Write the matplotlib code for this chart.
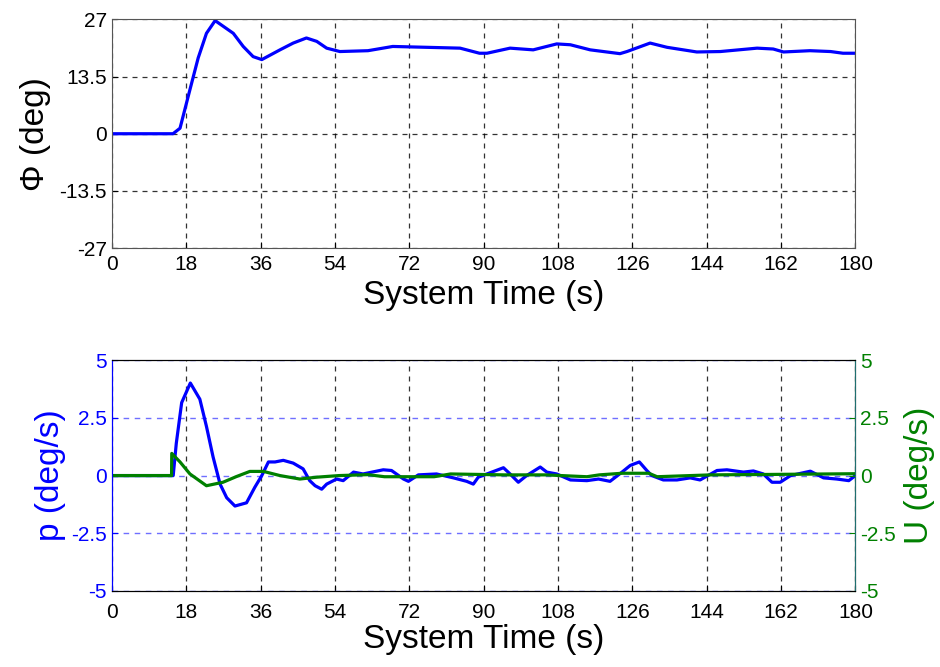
import matplotlib.pyplot as plt

plt.rcParams['font.family'] = ['Liberation Sans', 'DejaVu Sans']

# roll angle (top panel)
phi_t = [0, 14.8, 16.5, 18.9, 20.9, 22.9, 25, 29.4, 31.8, 34.2, 36.3, 40.7, 43.9,
         47.1, 49.6, 52, 55.2, 62, 68, 84.3, 89, 90.8, 96.4, 102, 107.7, 111, 115.8,
         123, 124.7, 130.3, 134.4, 141.6, 147.3, 156.2, 160.1, 162.6, 169, 174, 177, 180]
phi_v = [0, 0, 1.3, 10.4, 17.9, 23.7, 26.7, 23.7, 20.6, 18.2, 17.5, 19.8, 21.4,
         22.6, 21.8, 20.2, 19.4, 19.6, 20.6, 20.2, 19.0, 19.0, 20.2, 19.8, 21.2, 21.0, 19.8,
         18.9, 19.4, 21.4, 20.4, 19.3, 19.4, 20.2, 20.0, 19.3, 19.6, 19.4, 19.0, 19.0]

# roll rate p (bottom panel, left axis)
p_t = [0, 14.85, 15.6, 16.9, 19.0, 21.3, 22.9, 24.5, 26.2, 27.8, 29.8, 32.6, 34.6,
       36.3, 37.9, 39.5, 41.5, 43.9, 46.3, 47.9, 49.2, 50.8, 52, 54.4, 56, 58.5,
       60.8, 65.7, 67.7, 70.6, 71.8, 74.2, 78.6, 82.7, 85.9, 87.5, 88.7, 90.8, 94.8,
       96.4, 98.4, 100.4, 103.7, 105.3, 107.7, 111, 115, 117.8, 120.6, 123.5, 125.5,
       127.7, 129.5, 130.7, 133.5, 136.8, 140, 142.4, 146.5, 148.9, 152.9, 155.3,
       157.7, 159.8, 161.8, 164.3, 169.1, 172.3, 175.5, 178.4, 180]
p_v = [0, 0, 1.4, 3.16, 4.01, 3.31, 2.13, 0.81, -0.37, -0.96, -1.32, -1.18, -0.51,
       0, 0.59, 0.59, 0.66, 0.54, 0.29, -0.22, -0.44, -0.59, -0.37, -0.15, -0.22, 0.15,
       0.07, 0.25, 0.22, -0.15, -0.25, 0.03, 0.07, -0.1, -0.25, -0.37, -0.07, 0.07, 0.34,
       0.07, -0.29, 0, 0.37, 0.15, 0.07, -0.19, -0.22, -0.15, -0.25, 0.15, 0.44,
       0.59, 0.22, 0, -0.19, -0.19, -0.1, -0.19, 0.22, 0.25, 0.15, 0.2,
       0.07, -0.29, -0.29, 0, 0.19, -0.1, -0.15, -0.22, 0]

# control U (bottom panel, right axis)
u_t = [0, 14.45, 14.5, 16.5, 18.9, 22.9, 26.9, 30.2, 33.4, 36.7, 40.7, 45.5, 49.6,
       55, 62, 66, 78, 82, 95, 105, 115, 118, 123.5, 130, 132, 145, 160, 180]
u_v = [0, 0, 0.96, 0.59, 0.07, -0.44, -0.29, -0.04, 0.18, 0.18, 0, -0.15, -0.07,
       0, 0.04, -0.05, -0.05, 0.07, 0.03, 0.03, -0.05, 0.03, 0.1, 0.1, -0.05, 0.03, 0.05, 0.08]

x_ticks = list(range(0, 181, 18))
phi_ticks = [-27, -13.5, 0, 13.5, 27]
phi_labels = ['-27', '-13.5', '0', '13.5', '27']
rate_ticks = [-5, -2.5, 0, 2.5, 5]
rate_labels = ['-5', '-2.5', '0', '2.5', '5']

blue = '#0000ff'
green = '#008000'
grid_dash = (0, (4, 4))

fig = plt.figure(figsize=(9.4, 6.67), dpi=100)

# top panel
ax1 = fig.add_axes([0.119, 0.628, 0.791, 0.343])
ax1.plot(phi_t, phi_v, color=blue, lw=2.3)
ax1.set_xlim(0, 180)
ax1.set_ylim(-27, 27)
ax1.set_xticks(x_ticks)
ax1.set_yticks(phi_ticks)
ax1.set_yticklabels(phi_labels)
ax1.grid(True, color='black', ls=grid_dash, lw=0.9, alpha=0.8)
ax1.tick_params(direction='in', labelsize=15, length=4)
ax1.tick_params(axis='x', pad=5)
ax1.set_xlabel('System Time (s)', fontsize=24, labelpad=4)
ax1.set_ylabel('Φ (deg)', fontsize=24, labelpad=6)
for s in ax1.spines.values():
    s.set_color('#555555')

# bottom panel
ax2 = fig.add_axes([0.119, 0.114, 0.791, 0.346])
ax2.plot(p_t, p_v, color=blue, lw=2.3)
ax2.set_xlim(0, 180)
ax2.set_ylim(-5, 5)
ax2.set_xticks(x_ticks)
ax2.set_yticks(rate_ticks)
ax2.set_yticklabels(rate_labels)
ax2.grid(True, axis='x', color='black', ls=grid_dash, lw=0.9, alpha=0.8)
ax2.grid(True, axis='y', color='#6f6fff', ls=grid_dash, lw=1.0)
ax2.tick_params(direction='in', labelsize=15, length=4)
ax2.tick_params(axis='x', pad=9)
ax2.tick_params(axis='y', colors=blue)
ax2.set_xlabel('System Time (s)', fontsize=24, labelpad=1)
ax2.set_ylabel('p (deg/s)', fontsize=24, color=blue, labelpad=4)
ax2.spines['left'].set_color(blue)

ax3 = ax2.twinx()
ax3.plot(u_t, u_v, color=green, lw=2.3)
ax3.set_xlim(0, 180)
ax3.set_ylim(-5, 5)
ax3.set_yticks(rate_ticks)
ax3.set_yticklabels(rate_labels)
ax3.tick_params(direction='in', labelsize=15, length=4, colors=green)
ax3.set_ylabel('U (deg/s)', fontsize=24, color=green, labelpad=6)
ax3.spines['right'].set_color('#1f6f6f')
ax3.spines['left'].set_color(blue)

fig.savefig('out.png', dpi=100)
